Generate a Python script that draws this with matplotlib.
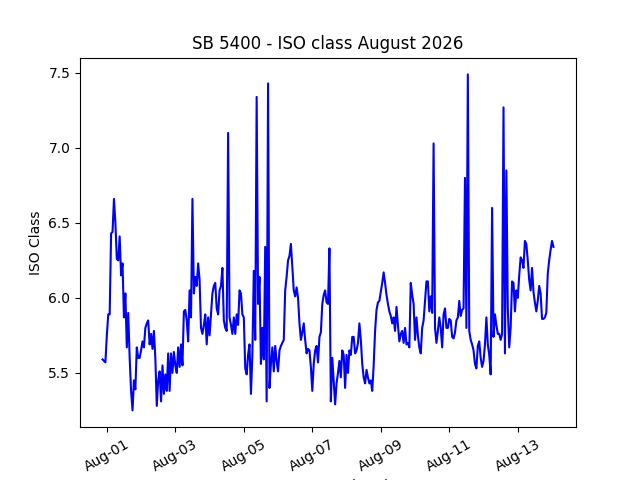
import matplotlib
matplotlib.use("Agg")
import matplotlib.pyplot as plt
import matplotlib.dates as mdates
import pandas as pd

# Hourly ISO class readings, starting 2026-07-31 21:00
start_time = "2026-07-31 21:00"
jul31 = [5.59, 5.58, 5.57]
aug01 = [5.75, 5.89, 5.89, 6.43, 6.44, 6.66, 6.50, 6.26, 6.25, 6.41, 6.15, 6.23,
         5.87, 6.03, 5.67, 5.90, 5.60, 5.38, 5.25, 5.45, 5.39, 5.67, 5.60, 5.60]
aug02 = [5.65, 5.71, 5.67, 5.80, 5.83, 5.85, 5.69, 5.76, 5.66, 5.78, 5.60, 5.28,
         5.45, 5.51, 5.31, 5.55, 5.36, 5.49, 5.38, 5.63, 5.38, 5.63, 5.50, 5.64]
aug03 = [5.55, 5.50, 5.67, 5.54, 5.69, 5.55, 5.91, 5.92, 5.85, 5.71, 6.05, 5.87,
         6.66, 6.03, 6.14, 6.08, 6.23, 6.12, 5.80, 5.76, 5.82, 5.89, 5.69, 5.87]
aug04 = [5.75, 5.89, 6.03, 6.08, 6.10, 5.93, 5.89, 6.05, 6.08, 6.20, 5.85, 5.80,
         5.78, 7.10, 5.87, 5.82, 5.76, 5.87, 5.76, 5.89, 5.82, 6.05, 6.03, 5.89]
aug05 = [5.87, 5.53, 5.49, 5.62, 5.69, 5.36, 5.62, 6.18, 5.72, 7.34, 5.96, 6.14,
         5.56, 5.80, 5.59, 6.34, 5.31, 7.43, 5.40, 5.56, 5.67, 5.51, 5.68, 5.58]
aug06 = [5.51, 5.65, 5.68, 5.70, 5.72, 6.05, 6.14, 6.25, 6.28, 6.36, 6.20, 6.05,
         6.01, 6.07, 6.00, 5.83, 5.72, 5.77, 5.83, 5.72, 5.63, 5.66, 5.65, 5.54]
aug07 = [5.38, 5.56, 5.65, 5.68, 5.57, 5.74, 5.77, 5.96, 6.02, 6.05, 5.97, 5.96,
         6.33, 5.31, 5.60, 5.45, 5.29, 5.43, 5.50, 5.58, 5.47, 5.65, 5.62, 5.40]
aug08 = [5.62, 5.50, 5.65, 5.62, 5.74, 5.74, 5.63, 5.65, 5.70, 5.83, 5.72, 5.56,
         5.47, 5.43, 5.52, 5.47, 5.43, 5.45, 5.38, 5.55, 5.78, 5.92, 5.97, 5.98]
aug09 = [6.04, 6.10, 6.17, 6.10, 6.02, 5.96, 5.91, 5.88, 5.83, 5.87, 5.78, 5.94,
         5.82, 5.71, 5.76, 5.78, 5.70, 5.80, 5.69, 5.70, 5.67, 6.10, 6.02, 5.96]
aug10 = [5.72, 5.87, 5.75, 5.67, 5.63, 5.80, 5.85, 5.98, 6.11, 6.11, 5.91, 6.01,
         5.90, 7.03, 5.80, 5.70, 5.78, 5.87, 5.80, 5.67, 5.89, 5.93, 5.80, 5.80]
aug11 = [5.86, 5.85, 5.74, 5.73, 5.77, 5.85, 5.87, 5.98, 5.88, 5.92, 5.93, 6.80,
         5.80, 7.49, 5.78, 5.72, 5.69, 5.65, 5.56, 5.53, 5.68, 5.71, 5.60, 5.54]
aug12 = [5.58, 5.69, 5.87, 5.69, 5.62, 5.49, 6.60, 5.74, 5.89, 5.82, 5.76, 5.76,
         5.72, 5.76, 7.27, 5.63, 6.85, 5.93, 5.67, 5.80, 6.11, 6.10, 5.91, 6.05]
aug13 = [6.00, 6.15, 6.27, 6.25, 6.20, 6.38, 6.36, 6.25, 6.12, 6.05, 6.20, 6.04,
         5.97, 5.91, 5.98, 6.08, 6.03, 5.86, 5.86, 5.87, 5.90, 6.16, 6.25, 6.32]
aug14 = [6.38, 6.34]

iso_values = (jul31 + aug01 + aug02 + aug03 + aug04 + aug05 + aug06 + aug07
              + aug08 + aug09 + aug10 + aug11 + aug12 + aug13 + aug14)
times = pd.date_range(start=start_time, periods=len(iso_values), freq="h")

fig, ax = plt.subplots(figsize=(6.4, 4.8), dpi=100)
ax.plot(times, iso_values, color="blue", linewidth=1.5)
ax.set_title("SB 5400 - ISO class August 2026")
ax.set_ylabel("ISO Class")
ax.set_xlabel("measurement datetime")
ax.xaxis.set_major_locator(mdates.DayLocator(bymonthday=range(1, 32, 2)))
ax.xaxis.set_major_formatter(mdates.DateFormatter("%b-%d"))
plt.setp(ax.get_xticklabels(), rotation=30)
fig.savefig("out.png", dpi=100)
